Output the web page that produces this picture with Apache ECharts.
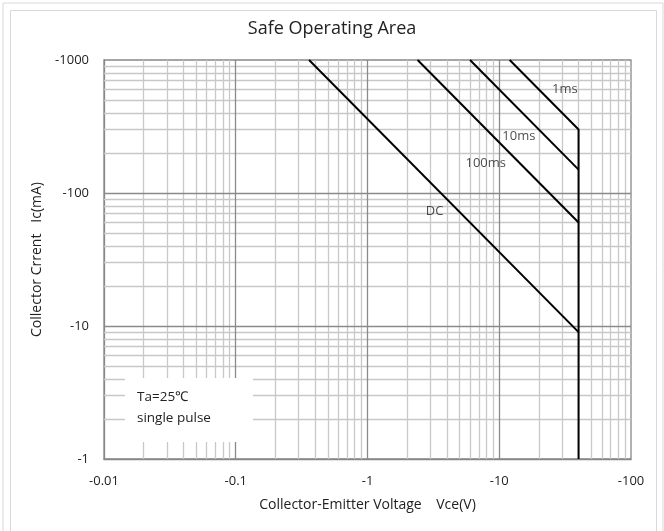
<!DOCTYPE html>
<html><head><meta charset="utf-8">
<script src="https://cdn.jsdelivr.net/npm/echarts@6/dist/echarts.min.js"></script>
<style>html,body{margin:0;padding:0;background:#fff}#c{width:664px;height:531px}</style>
</head><body><div id="c"></div>
<script>
// Data
const xTicks = [0.01, 0.1, 1, 10, 100];
const yTicks = [1, 10, 100, 1000];
const lineDC = [[0.36, 1000], [40, 9]];
const line100ms = [[2.4, 1000], [40, 60]];
const line10ms = [[6, 1000], [40, 150]];
const line1ms = [[12, 1000], [40, 300], [40, 1]];
const curveLabels = [
  { name: '1ms', value: [31.5, 605] },
  { name: '10ms', value: [14.1, 268] },
  { name: '100ms', value: [7.9, 168] },
  { name: 'DC', value: [3.23, 73] }
];
const minorMultipliers = [2, 3, 4, 5, 6, 7, 8, 9];

const xMinor = [], yMinor = [];
for (let d = -2; d <= 1; d++) minorMultipliers.forEach(k => xMinor.push(+(k * Math.pow(10, d)).toPrecision(3)));
for (let d = 0; d <= 2; d++) minorMultipliers.forEach(k => yMinor.push(+(k * Math.pow(10, d)).toPrecision(3)));
const xMajor = xTicks.slice(1, -1), yMajor = yTicks.slice(1, -1);

const font = 'Open Sans';
const fmt = v => '-' + (+v.toPrecision(3));

const minorStyle = { color: '#c8c8c8', width: 1.3, type: 'solid' };
const majorStyle = { color: '#8a8a8a', width: 1.3, type: 'solid' };

const chart = echarts.init(document.getElementById('c'), null, { renderer: 'canvas' });
chart.setOption({
  animation: false,
  backgroundColor: '#fff',
  title: { text: 'Safe Operating Area', left: 'center', top: 15,
    textStyle: { fontFamily: font, fontSize: 18, fontWeight: 'normal', color: '#222' } },
  grid: { left: 104, right: 33, top: 60, bottom: 72, show: true, borderColor: '#888', borderWidth: 1.3, backgroundColor: 'transparent' },
  xAxis: {
    type: 'log', logBase: 10, min: 0.01, max: 100,
    name: 'Collector-Emitter Voltage    Vce(V)', nameLocation: 'middle', nameGap: 39,
    nameTextStyle: { fontFamily: font, fontSize: 14, color: '#222' },
    axisLine: { show: true, lineStyle: { color: '#888', width: 1.3 } },
    axisTick: { show: false },
    splitLine: { show: false },
    axisLabel: { formatter: fmt, margin: 16, fontFamily: font, fontSize: 13, color: '#222' }
  },
  yAxis: {
    type: 'log', logBase: 10, min: 1, max: 1000,
    name: 'Collector Crrent   Ic(mA)', nameLocation: 'middle', nameGap: 56,
    nameTextStyle: { fontFamily: font, fontSize: 14, color: '#222' },
    axisLine: { show: true, lineStyle: { color: '#888', width: 1.3 } },
    axisTick: { show: false },
    splitLine: { show: false },
    axisLabel: { formatter: fmt, margin: 15, fontFamily: font, fontSize: 13, color: '#222' }
  },
  graphic: [
    { type: 'rect', z: 0, shape: { x: 3, y: 3, width: 660, height: 540 }, style: { fill: 'none', stroke: '#d9d9d9', lineWidth: 1 } },
    { type: 'rect', z: 0, shape: { x: 10.5, y: 10.5, width: 646, height: 540 }, style: { fill: 'none', stroke: '#d9d9d9', lineWidth: 1 } },
    { type: 'rect', z: 100, shape: { x: 125, y: 378, width: 128, height: 64 }, style: { fill: '#fff' } },
    { type: 'text', z: 101, left: 137, top: 390, style: { text: 'Ta=25℃', fontFamily: font, fontSize: 13.5, fill: '#222' } },
    { type: 'text', z: 101, left: 137, top: 411, style: { text: 'single pulse', fontFamily: font, fontSize: 13.5, fill: '#222' } }
  ],
  series: [
    { type: 'line', name: 'grid', data: [], silent: true, z: 1,
      markLine: { silent: true, symbol: 'none', label: { show: false }, animation: false,
        data: [
          ...xMinor.map(v => ({ xAxis: v, lineStyle: minorStyle })),
          ...yMinor.map(v => ({ yAxis: v, lineStyle: minorStyle })),
          ...xMajor.map(v => ({ xAxis: v, lineStyle: majorStyle })),
          ...yMajor.map(v => ({ yAxis: v, lineStyle: majorStyle }))
        ] } },
    ...[lineDC, line100ms, line10ms, line1ms].map(d => ({
      type: 'line', data: d, symbol: 'none', z: 5,
      lineStyle: { color: '#000', width: 2 }
    })),
    { type: 'scatter', data: curveLabels, symbolSize: 0, z: 6,
      label: { show: true, position: 'inside', formatter: p => p.name, fontFamily: font, fontSize: 13, color: '#222' } }
  ]
});
</script></body></html>
